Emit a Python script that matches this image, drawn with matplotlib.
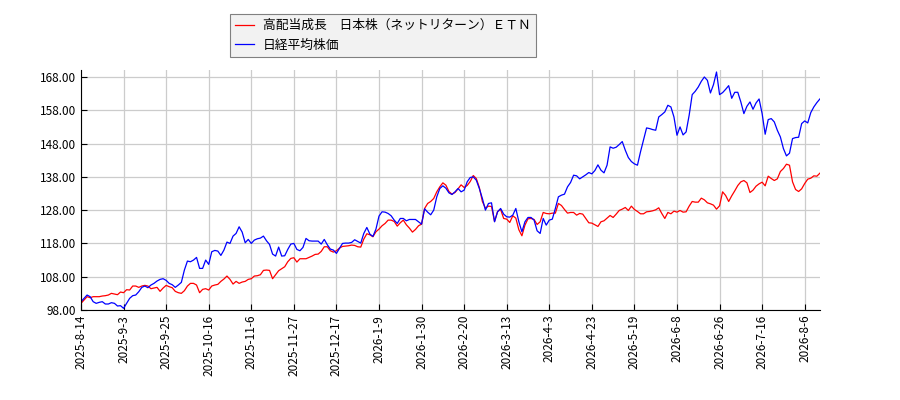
import matplotlib
matplotlib.use("Agg")
import matplotlib.pyplot as plt
import numpy as np

plt.rcParams["font.family"] = ["Noto Sans CJK JP", "DejaVu Sans"]

# trading-day tick labels (one every 14 sessions)
tick_labels = ["2025-8-14", "2025-9-3", "2025-9-25", "2025-10-16", "2025-11-6",
               "2025-11-27", "2025-12-17", "2026-1-9", "2026-1-30", "2026-2-20",
               "2026-3-13", "2026-4-3", "2026-4-23", "2026-5-19", "2026-6-8",
               "2026-6-26", "2026-7-16", "2026-8-6"]
tick_step = 14

etn_name = "高配当成長　日本株（ネットリターン）ＥＴＮ"
nikkei_name = "日経平均株価"

# relative performance, start = 100
etn = [
    100, 101, 102, 101.7, 102, 102, 102, 102.2, 102.3, 102.5,
    103, 102.8, 102.6, 103.4, 103.2, 104.1, 104, 105.2, 105.2, 104.8,
    105.2, 105.4, 105.2, 104.4, 104.6, 104.8, 103.6, 104.6, 105.4, 105,
    104.7, 103.6, 103.2, 103, 103.8, 105.2, 106, 106, 105.5, 103.2,
    104.2, 104.4, 104, 105.2, 105.5, 105.7, 106.6, 107.3, 108.2, 107.2,
    105.8, 106.6, 106, 106.4, 106.6, 107.2, 107.4, 108.2, 108.3, 108.6,
    109.9, 110, 109.9, 107.4, 108.6, 109.8, 110.4, 111, 112.5, 113.5,
    113.7, 112.4, 113.4, 113.4, 113.4, 113.8, 114.2, 114.7, 114.8, 115.6,
    117, 117, 115.8, 115.4, 115.8, 116.6, 117.1, 117.2, 117.3, 117.5,
    117.4, 117, 116.9, 119.3, 120.9, 120.6, 120, 121.5, 122.3, 123.3,
    124, 125, 125, 124.6, 123.2, 124.2, 125, 123.6, 122.6, 121.4,
    122.2, 123.3, 123.8, 128.5, 130, 130.6, 131.5, 133.5, 135, 136.2,
    135.5, 133.6, 132.8, 133.3, 134.4, 135.6, 134.8, 135.4, 136.6, 138.4,
    137.5, 134.8, 130.6, 128.6, 129.2, 129.1, 124.6, 127.6, 128.2, 125.5,
    125.3, 124.3, 126.3, 125.6, 122.1, 120.3, 123.5, 125.4, 125.5, 125.2,
    123.7, 124.5, 127.3, 127, 126.9, 127.1, 127.1, 130, 129.4, 128.2,
    127.1, 127.3, 127.3, 126.5, 127, 126.8, 125.5, 124.2, 124.1, 123.6,
    123.1, 124.5, 124.8, 125.6, 126.4, 125.8, 126.8, 127.9, 128.3, 128.8,
    127.9, 129.2, 128.2, 127.6, 126.9, 126.9, 127.5, 127.6, 127.8, 128.1,
    128.7, 127, 125.5, 127.3, 126.9, 127.7, 127.4, 127.9, 127.4, 127.5,
    129.2, 130.6, 130.4, 130.4, 131.6, 131.1, 130.2, 129.9, 129.5, 128.3,
    129.3, 133.5, 132.4, 130.6, 132.3, 133.8, 135.4, 136.5, 136.9, 136.2,
    133.3, 134, 135.2, 135.9, 136.4, 135.3, 138.2, 137.5, 136.9, 137.4,
    139.6, 140.5, 141.8, 141.5, 136.5, 134.2, 133.6, 134.4, 136, 137.3,
    137.6, 138.3, 138.2, 139.1,
]
nikkei = [
    100.5, 101.5, 102.5, 102, 100.5, 100, 100.3, 100.5, 99.8, 99.8,
    100.2, 100, 99.2, 99.3, 98.5, 100, 101.5, 102.3, 102.5, 103.5,
    104.8, 105.2, 104.7, 105.5, 106, 106.7, 107.2, 107.4, 106.9, 106,
    105.6, 104.8, 105.5, 106.3, 110, 112.7, 112.5, 113, 113.8, 110.5,
    110.5, 113, 111.7, 115.5, 115.9, 115.7, 114.4, 116, 118.4, 118,
    120.2, 121, 123, 121.4, 118.2, 119.2, 118, 119, 119.4, 119.6,
    120.2, 118.8, 117.7, 114.8, 114.2, 116.9, 114.2, 114.3, 116.2, 117.8,
    118, 116.2, 115.8, 116.8, 119.5, 118.8, 118.7, 118.7, 118.7, 117.8,
    119.2, 117.6, 116.3, 116, 115, 116.5, 118, 118.1, 118.1, 118.3,
    119.1, 118.6, 118.1, 121, 122.8, 120.8, 120.1, 122.3, 126.2, 127.5,
    127.4, 127, 126.3, 125, 124, 125.5, 125.5, 124.8, 125.2, 125.2,
    125.2, 124.5, 123.8, 128.4, 127.4, 126.6, 128, 132, 134.5, 135.3,
    134.6, 133.2, 132.7, 133.5, 134.5, 133.5, 134, 136.5, 137.8, 138,
    137, 134.5, 131.5, 128, 130, 130.2, 124.5, 127.5, 128.5, 126.8,
    126, 125.9, 126.5, 128.5, 124.5, 121.5, 124.5, 125.8, 125.8, 125,
    121.8, 121, 125.5, 123.5, 125, 125.3, 128.5, 132, 132.5, 132.8,
    135, 136.3, 138.5, 138.3, 137.4, 138, 138.6, 139.3, 138.9, 139.9,
    141.6, 140, 139.2, 141.5, 147, 146.6, 146.9, 147.7, 148.6, 146,
    143.8, 142.6, 141.9, 141.5, 145.5, 149.1, 152.7, 152.5, 152.2, 152,
    156, 156.7, 157.5, 159.5, 159, 156, 150.5, 153, 150.6, 151.5,
    156.5, 162.7, 163.7, 165, 166.7, 168, 167, 163.2, 165.7, 169.5,
    162.7, 163.3, 164.3, 165.4, 161.6, 163.4, 163.4, 160.5, 157, 159.2,
    160.5, 158.3, 160.2, 161.4, 157, 150.8, 155.2, 155.5, 154.5, 152,
    150, 146.5, 144.3, 145.1, 149.5, 149.8, 149.9, 154, 154.8, 154.2,
    157.3, 159, 160.3, 161.4,
]

x = np.arange(len(etn))
y_ticks = np.arange(98, 169, 10)

fig = plt.figure(figsize=(9, 4), dpi=100)
ax = fig.add_axes([0.09, 0.225, 0.821, 0.6])

ax.plot(x, etn, color="#ff0000", linewidth=0.9, label=etn_name)
ax.plot(x, nikkei, color="#0000ff", linewidth=0.9, label=nikkei_name)

ax.set_xlim(0, len(etn) - 1)
ax.set_ylim(98, 170.1)
ax.set_yticks(y_ticks)
ax.set_yticklabels([f"{v:.2f}" for v in y_ticks], fontsize=8.5)
ax.set_xticks(np.arange(len(tick_labels)) * tick_step)
ax.set_xticklabels(tick_labels, rotation=90, fontsize=8.5)
ax.tick_params(direction="in", length=4, color="black")
ax.grid(color="#cccccc", linewidth=0.9)
ax.set_axisbelow(True)
for s in ("top", "right"):
    ax.spines[s].set_visible(False)

leg = fig.legend(loc="upper left", bbox_to_anchor=(230 / 900, 1 - 14 / 400),
                 borderaxespad=0, fancybox=False, fontsize=9.2,
                 edgecolor="#808080", facecolor="#f2f2f2", framealpha=1,
                 handlelength=1.5, handletextpad=0.7)
leg.get_frame().set_linewidth(0.8)

plt.savefig("out.png", dpi=100)
